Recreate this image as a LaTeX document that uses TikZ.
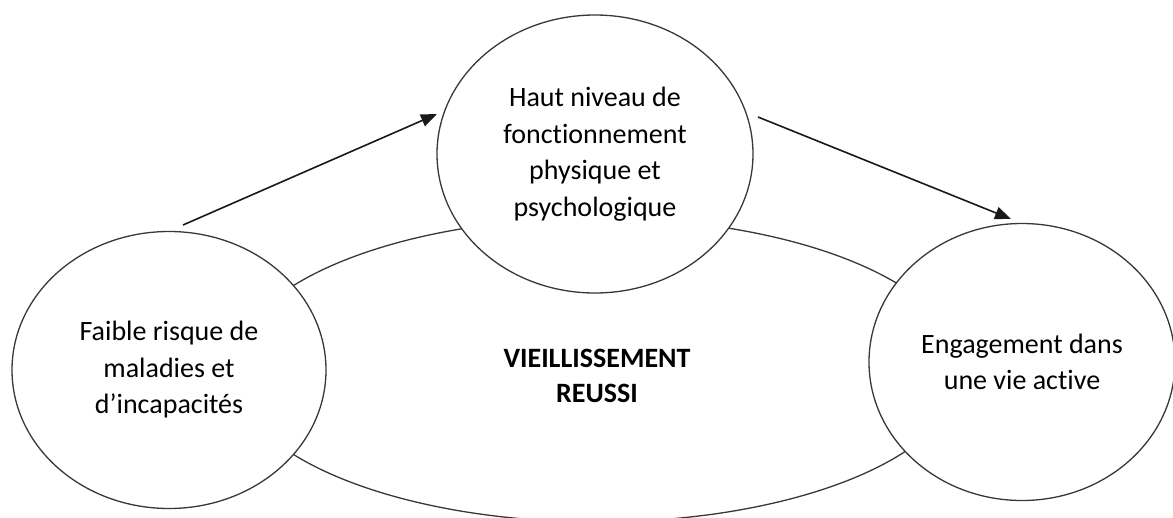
\documentclass[tikz,border=0pt]{standalone}
\usepackage{fontspec}
\setmainfont{Carlito}[Ligatures={NoCommon}]
\usetikzlibrary{shapes.geometric,arrows.meta}
\begin{document}
\begin{tikzpicture}[x=1pt,y=-1pt,
  outline/.style={draw=black!78, line width=1.3pt},
  bubble/.style={outline, ellipse, fill=white, inner sep=0pt, align=center,
    minimum width=314pt, minimum height=277pt,
    font=\fontsize{28}{36.5}\selectfont},
  flow/.style={draw=black!90, line width=1.6pt, -{Triangle[length=16pt,width=12.5pt]}}]
\useasboundingbox (0,0) rectangle (1173,517);
\clip (0,0) rectangle (1173,517);
\fill[white] (0,0) rectangle (1173,517);

% central ellipse with its label
\node[outline, ellipse, inner sep=0pt, minimum width=730pt, minimum height=304pt] (core) at (597,370) {};
\node[font=\bfseries\fontsize{28}{35.5}\selectfont, align=center] (coretext) at (597,376) {VIEILLISSEMENT\\REUSSI};

% the three components, drawn on top of the ellipse
\node[bubble] (risk) at (169,370) {Faible risque de\\maladies et\\d’incapacités};
\node[bubble, minimum width=316pt, minimum height=278pt] (func) at (595,154) {Haut niveau de\\fonctionnement\\physique et\\psychologique};
\node[bubble, minimum width=306pt] (engage) at (1022,362) {Engagement dans\\une vie active};

% arrows between the components
\coordinate (riskout) at (183,225);
\coordinate (funcin) at (437,114);
\coordinate (funcout) at (758,117);
\coordinate (engagein) at (1011,219);
\draw[flow] (riskout) -- (funcin);
\draw[flow] (funcout) -- (engagein);
\end{tikzpicture}
\end{document}
